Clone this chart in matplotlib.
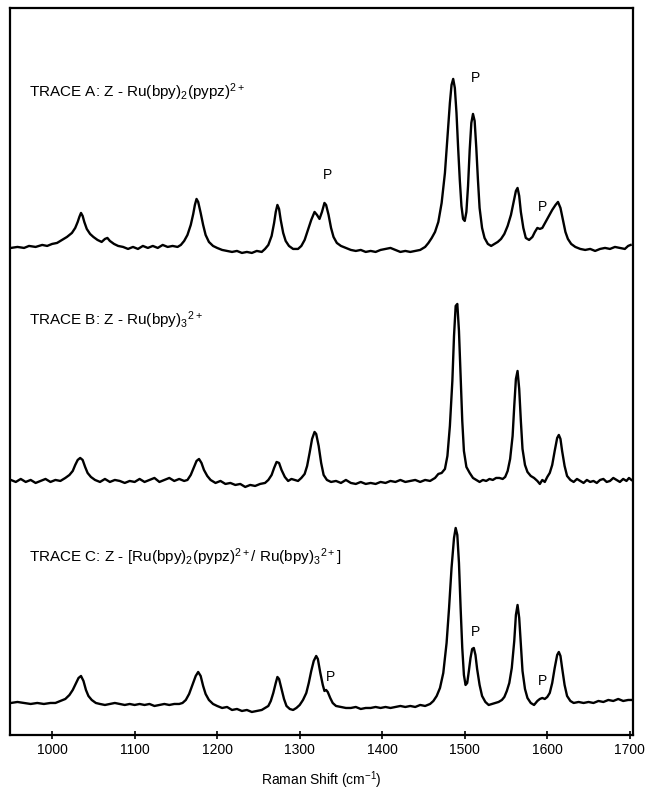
import matplotlib
matplotlib.use('Agg')
import matplotlib.pyplot as plt

plt.rcParams['font.family'] = ['Liberation Sans', 'DejaVu Sans']
plt.rcParams['mathtext.fontset'] = 'custom'
plt.rcParams['mathtext.rm'] = 'Liberation Sans'
plt.rcParams['mathtext.it'] = 'Liberation Sans:italic'

# Raman spectra: (shift cm-1, height above the trace baseline)
trace_a = [
    (950, 0), (958, 1), (966, 0), (972, 2), (980, 1), (988, 3), (994, 2), (1000, 4),
    (1006, 5), (1012, 8), (1018, 11), (1024, 15), (1028, 20), (1031, 26), (1033, 31),
    (1035, 35), (1037, 32), (1039, 26), (1042, 19), (1046, 14), (1050, 11), (1055, 8),
    (1060, 6), (1064, 9), (1067, 10), (1070, 7), (1075, 4), (1080, 2), (1086, 1),
    (1092, -1), (1098, 1), (1104, -1), (1110, 2), (1116, 0), (1122, 2), (1128, 0),
    (1134, 3), (1140, 1), (1146, 2), (1152, 1), (1156, 3), (1160, 7), (1164, 13),
    (1168, 23), (1171, 34), (1173, 43), (1175, 49), (1177, 46), (1180, 35), (1183, 23),
    (1186, 13), (1190, 6), (1195, 2), (1200, 0), (1206, -2), (1212, -3), (1218, -4),
    (1224, -3), (1230, -5), (1236, -4), (1242, -5), (1248, -3), (1254, -4), (1258, -1),
    (1262, 3), (1266, 12), (1269, 25), (1271, 36), (1273, 43), (1275, 39), (1277, 28),
    (1280, 15), (1283, 7), (1287, 2), (1292, -1), (1298, -1), (1302, 2), (1306, 8),
    (1310, 18), (1314, 28), (1318, 36), (1321, 33), (1324, 29), (1327, 36), (1330, 45),
    (1332, 43), (1335, 33), (1338, 20), (1341, 11), (1345, 5), (1350, 2), (1356, 0),
    (1362, -2), (1368, -3), (1374, -2), (1380, -4), (1386, -3), (1392, -4), (1398, -2),
    (1404, -1), (1410, 0), (1416, -2), (1422, -4), (1428, -3), (1434, -4), (1440, -3),
    (1446, -2), (1452, 1), (1456, 5), (1460, 10), (1464, 16), (1468, 26), (1472, 45),
    (1476, 75), (1479, 110), (1482, 145), (1484, 163), (1486, 169), (1488, 160),
    (1490, 135), (1492, 100), (1494, 68), (1496, 42), (1498, 29), (1500, 27), (1502, 36),
    (1504, 62), (1506, 98), (1508, 125), (1510, 134), (1512, 127), (1514, 100),
    (1516, 68), (1518, 40), (1521, 20), (1524, 10), (1528, 4), (1532, 2), (1536, 4),
    (1540, 6), (1544, 9), (1548, 14), (1552, 22), (1556, 33), (1559, 45), (1562, 57),
    (1564, 60), (1566, 52), (1568, 36), (1571, 20), (1574, 10), (1578, 8), (1582, 11),
    (1585, 16), (1588, 20), (1591, 19), (1594, 20), (1598, 26), (1602, 32), (1606, 38),
    (1610, 43), (1613, 46), (1616, 40), (1619, 28), (1622, 16), (1625, 9), (1629, 4),
    (1634, 1), (1640, -1), (1646, -2), (1652, -1), (1658, -3), (1664, -1), (1670, 0),
    (1676, -1), (1682, 1), (1688, 0), (1694, -1), (1698, 2), (1701, 3),
]

trace_b = [
    (950, 1), (956, -1), (962, 2), (968, -1), (974, 1), (980, -2), (986, 0), (992, 2),
    (998, -1), (1004, 1), (1010, 0), (1016, 3), (1021, 6), (1025, 10), (1028, 16),
    (1031, 21), (1034, 23), (1037, 21), (1040, 14), (1043, 8), (1047, 4), (1052, 1),
    (1058, -1), (1064, 2), (1070, -1), (1076, 1), (1082, 0), (1088, -2), (1094, 0),
    (1100, -1), (1106, 2), (1112, -1), (1118, 1), (1124, 3), (1130, -1), (1136, 1),
    (1142, 3), (1148, 0), (1154, 2), (1160, 0), (1164, 1), (1168, 6), (1172, 14),
    (1175, 20), (1178, 22), (1181, 18), (1184, 11), (1188, 5), (1192, 1), (1198, -2),
    (1204, 0), (1210, -3), (1216, -2), (1222, -4), (1228, -3), (1234, -6), (1240, -4),
    (1246, -5), (1252, -3), (1258, -2), (1262, 1), (1266, 6), (1269, 13), (1272, 19),
    (1275, 18), (1278, 11), (1282, 4), (1286, 0), (1290, 2), (1294, 1), (1298, 0),
    (1302, 3), (1306, 7), (1309, 15), (1312, 28), (1315, 42), (1318, 49), (1320, 47),
    (1323, 35), (1326, 18), (1329, 6), (1333, 1), (1338, -1), (1344, 0), (1350, -2),
    (1356, 1), (1362, -2), (1368, -3), (1374, -1), (1380, -3), (1386, -2), (1392, -3),
    (1398, -1), (1404, -2), (1410, 0), (1416, -1), (1422, 1), (1428, -1), (1434, 0),
    (1440, 1), (1446, -1), (1452, 1), (1458, 0), (1464, 3), (1468, 7), (1472, 8),
    (1476, 12), (1479, 25), (1482, 55), (1485, 100), (1487, 145), (1489, 175),
    (1491, 177), (1493, 150), (1495, 105), (1497, 60), (1499, 30), (1502, 14),
    (1506, 8), (1510, 3), (1514, 1), (1518, -1), (1522, 1), (1526, 0), (1530, 2),
    (1534, 1), (1538, 3), (1542, 3), (1546, 2), (1549, 4), (1552, 10), (1555, 22),
    (1558, 45), (1560, 75), (1562, 102), (1564, 110), (1566, 92), (1568, 60), (1570, 32),
    (1573, 16), (1576, 9), (1580, 5), (1584, 3), (1588, 0), (1591, -3), (1594, 1),
    (1597, -1), (1600, 4), (1603, 8), (1606, 16), (1609, 30), (1612, 43), (1614, 46),
    (1616, 42), (1618, 30), (1621, 15), (1624, 5), (1628, 1), (1632, -1), (1636, 2),
    (1640, 0), (1644, -2), (1648, 1), (1652, -1), (1656, 0), (1660, -2), (1664, 1),
    (1668, 2), (1672, -1), (1676, 0), (1680, 3), (1684, 1), (1688, -1), (1692, 2),
    (1696, 0), (1699, 3), (1702, 1),
]

trace_c = [
    (950, 0), (958, 1), (966, 0), (974, -1), (982, 0), (990, -1), (998, 0), (1004, 0),
    (1010, 2), (1016, 4), (1021, 8), (1025, 13), (1029, 20), (1032, 25), (1035, 27),
    (1038, 22), (1041, 13), (1044, 7), (1048, 3), (1053, 0), (1058, -1), (1064, -2),
    (1070, -1), (1076, 0), (1082, -1), (1088, -2), (1094, -1), (1100, -2), (1106, -1),
    (1112, -2), (1118, -1), (1124, -3), (1130, -2), (1136, -1), (1142, -2), (1148, -1),
    (1154, -1), (1158, 0), (1162, 3), (1166, 9), (1170, 18), (1174, 27), (1177, 31),
    (1180, 27), (1183, 17), (1186, 9), (1190, 3), (1195, -1), (1200, -3), (1206, -5),
    (1212, -4), (1218, -7), (1224, -6), (1230, -8), (1236, -7), (1242, -9), (1248, -8),
    (1254, -7), (1258, -5), (1262, -3), (1265, 2), (1268, 10), (1271, 20), (1273, 26),
    (1275, 24), (1278, 14), (1281, 4), (1284, -3), (1288, -6), (1292, -7), (1296, -5),
    (1300, -2), (1304, 3), (1308, 10), (1311, 20), (1314, 32), (1317, 42), (1320, 47),
    (1322, 44), (1325, 30), (1328, 18), (1330, 12), (1332, 13), (1334, 11), (1337, 5),
    (1340, 0), (1344, -3), (1350, -4), (1356, -5), (1362, -5), (1368, -4), (1374, -6),
    (1380, -5), (1386, -5), (1392, -4), (1398, -5), (1404, -4), (1410, -5), (1416, -4),
    (1422, -3), (1428, -4), (1434, -3), (1440, -4), (1446, -2), (1452, -3), (1458, -1),
    (1462, 2), (1466, 7), (1470, 15), (1474, 30), (1478, 60), (1481, 95), (1484, 135),
    (1487, 165), (1489, 175), (1491, 168), (1493, 140), (1495, 95), (1497, 55),
    (1499, 28), (1501, 18), (1503, 20), (1505, 32), (1507, 45), (1509, 54), (1511, 55),
    (1513, 48), (1515, 34), (1518, 18), (1521, 7), (1525, 1), (1529, -2), (1533, -1),
    (1537, 0), (1541, 1), (1545, 3), (1548, 6), (1551, 12), (1554, 20), (1557, 35),
    (1560, 62), (1562, 88), (1564, 98), (1566, 85), (1568, 58), (1570, 32), (1573, 14),
    (1576, 5), (1580, 0), (1584, -2), (1588, 2), (1591, 4), (1594, 5), (1597, 4),
    (1600, 6), (1603, 10), (1606, 20), (1609, 35), (1612, 48), (1614, 51), (1616, 47),
    (1618, 35), (1621, 18), (1624, 7), (1628, 2), (1632, 0), (1638, 1), (1644, 0),
    (1650, 1), (1656, 0), (1662, 2), (1668, 1), (1674, 3), (1680, 2), (1686, 4),
    (1692, 2), (1698, 3), (1702, 3),
]

traces = [trace_a, trace_b, trace_c]
offsets = [487, 254, 32]
trace_labels = [
    r'TRACE A: Z - Ru(bpy)$_2$(pypz)$^{2+}$',
    r'TRACE B: Z - Ru(bpy)$_3$$^{2+}$',
    r'TRACE C: Z - [Ru(bpy)$_2$(pypz)$^{2+}$/ Ru(bpy)$_3$$^{2+}$]',
]
label_y = [643, 415, 178]

# "P" markers (shift, height in axis units)
p_marks = [(1334, 560), (1513, 657), (1594, 528),
           (1337, 58), (1513, 103), (1594, 54)]

fig = plt.figure(figsize=(6.47, 7.92), dpi=100)
ax = fig.add_axes([0.0155, 0.072, 0.963, 0.918])

for tr, off in zip(traces, offsets):
    xs = [p[0] for p in tr]
    ys = [p[1] + off for p in tr]
    ax.plot(xs, ys, color='black', linewidth=1.7)

for lab, yy in zip(trace_labels, label_y):
    ax.text(972, yy, lab, fontsize=11, va='center', ha='left')

for px, py in p_marks:
    ax.text(px, py, 'P', fontsize=10, ha='center', va='center')

ax.set_xlim(949, 1704)
ax.set_ylim(0, 727)
ax.set_yticks([])
ax.set_xticks([1000, 1100, 1200, 1300, 1400, 1500, 1600, 1700])
ax.tick_params(axis='x', direction='inout', length=6, width=1.2, labelsize=10, pad=3)
for sp in ax.spines.values():
    sp.set_linewidth(1.6)
ax.set_xlabel('Raman Shift (cm$^{-1}$)', fontsize=10, labelpad=9)

fig.savefig('out.png', dpi=100)
